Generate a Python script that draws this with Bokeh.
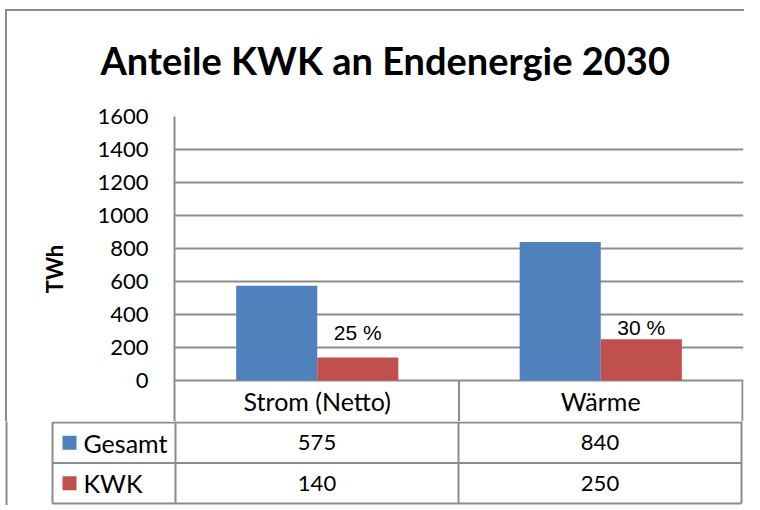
from bokeh.plotting import figure
from bokeh.models import ColumnDataSource, Range1d, FixedTicker
from bokeh.layouts import column
from bokeh.embed import file_html
from bokeh.resources import INLINE
from bokeh.core.properties import value

# ---------------- data ----------------
title_text = "Anteile KWK an Endenergie 2030"
y_label = "TWh"
categories = ["Strom (Netto)", "Wärme"]
series = ["Gesamt", "KWK"]
gesamt = [575, 840]
kwk = [140, 250]
share_labels = ["25 %", "30 %"]
y_ticks = [0, 200, 400, 600, 800, 1000, 1200, 1400, 1600]

# ---------------- style ----------------
BLUE = "#4F81BD"
RED = "#C0504D"
GRID = "#8C8C8C"
FONT = "Lato"
W = 744
BAR_W = 0.286              # bar width in category units
CAT_PX = 283.0             # pixels per category
PXU = 264.0 / 1600         # pixels per TWh
LEFT_COL = 123.0 / CAT_PX  # width of the legend column of the data table
HEADER_PX = 41.0           # height of the category header row
ROW_PX = 40.5              # height of a table row
label_nudge = [-25, -12]   # px above the KWK bars for the share labels

n = len(categories)
centers = [i + 0.5 for i in range(n)]
x_g = [c - BAR_W / 2 for c in centers]
x_k = [c + BAR_W / 2 for c in centers]
y_bottom = -HEADER_PX / PXU

# ---------------- chart (incl. header row of the table) ----------------
p = figure(width=W, height=421, x_range=Range1d(-1 / CAT_PX, n + 1 / CAT_PX),
           y_range=Range1d(y_bottom, 1600), title=title_text,
           x_axis_location=None, output_backend="svg", toolbar_location=None,
           min_border_left=174, min_border_right=W - 743, min_border_top=116,
           min_border_bottom=0)
p.frame_align = False
p.outline_line_color = None
p.background_fill_color = "white"
p.border_fill_color = None
p.styles = {
    "background-color": "white",
    "background-image": f"linear-gradient({GRID}, {GRID}), linear-gradient({GRID}, {GRID})",
    "background-size": "2px 100%, 100% 2px",
    "background-position": "5px 9px, 5px 9px",
    "background-repeat": "no-repeat",
}
p.xgrid.grid_line_color = None
p.ygrid.grid_line_color = GRID
p.ygrid.grid_line_width = 2
p.ygrid.ticker = FixedTicker(ticks=y_ticks)

p.title.text_font = FONT
p.title.text_font_size = "38px"
p.title.text_font_style = "bold"
p.title.text_color = "black"
p.title.align = "left"
p.title.offset = -74
p.title.standoff = 67

ax = p.yaxis[0]
ax.ticker = FixedTicker(ticks=y_ticks)
ax.major_tick_line_color = None
ax.major_tick_out = 0
ax.major_tick_in = 0
ax.minor_tick_line_color = None
ax.axis_line_color = GRID
ax.axis_line_width = 2
ax.major_label_standoff = 26
ax.major_label_text_font = FONT
ax.major_label_text_font_size = "22px"
ax.major_label_text_color = "black"
ax.axis_label = y_label
ax.axis_label_text_font = FONT
ax.axis_label_text_font_style = "bold"
ax.axis_label_text_font_size = "22px"
ax.axis_label_text_color = "black"
ax.axis_label_standoff = 26

src_g = ColumnDataSource(dict(x=x_g, top=gesamt))
src_k = ColumnDataSource(dict(x=x_k, top=kwk, lab=share_labels, dy=label_nudge))
p.vbar(x="x", top="top", width=BAR_W, bottom=0, source=src_g, fill_color=BLUE, line_color=None)
p.vbar(x="x", top="top", width=BAR_W, bottom=0, source=src_k, fill_color=RED, line_color=None)
p.text(x="x", y="top", text="lab", y_offset="dy", source=src_k, text_align="center",
       text_baseline="alphabetic", text_font=value("Liberation Sans"),
       text_font_size="21px", text_color="black")

# header row of the data table: category names and separators
sep_x = list(range(1, n + 1))
p.segment(x0=sep_x, y0=[0] * n, x1=sep_x, y1=[y_bottom] * n, line_color=GRID, line_width=2)
p.text(x=centers, y=[y_bottom / 2] * n, text=categories, text_align="center",
       text_baseline="middle", text_font=value(FONT), text_font_size="25px", text_color="black")

# ---------------- data table rows ----------------
TH = 84
t = figure(width=W, height=TH,
           x_range=Range1d(-175 / CAT_PX, (W - 175) / CAT_PX),
           y_range=Range1d(1 + (TH - 1) / ROW_PX, 1 - 1 / ROW_PX),
           x_axis_location=None, y_axis_location=None, min_border=0,
           output_backend="svg", toolbar_location=None)
t.frame_align = False
t.outline_line_color = None
t.xgrid.grid_line_color = None
t.ygrid.grid_line_color = None
t.background_fill_color = "white"
t.border_fill_color = "white"

nrows = len(series)
top_edge = 1 - 1 / ROW_PX
hy = [r + 1 for r in range(nrows + 1)]
t.segment(x0=[-LEFT_COL] * len(hy), y0=hy, x1=[n] * len(hy), y1=hy, line_color=GRID, line_width=2)
vx = [-LEFT_COL] + list(range(n + 1))
vy0 = [1] + [top_edge] * (n + 1)
t.segment(x0=vx, y0=vy0, x1=vx, y1=[nrows + 1] * len(vx), line_color=GRID, line_width=2)
# outer chart border (left edge)
bx = (6 - 175) / CAT_PX
t.segment(x0=[bx], y0=[top_edge - 1], x1=[bx], y1=[nrows + 3], line_color=GRID, line_width=2)

for r, vals in enumerate([gesamt, kwk]):
    t.text(x=centers, y=[r + 1.5] * n, text=[str(v) for v in vals], text_align="center",
           text_baseline="middle", text_font=value(FONT), text_font_size="22px",
           text_color="black")

row_y = [r + 1.5 for r in range(nrows)]
t.scatter(x=[-LEFT_COL + 17 / CAT_PX] * nrows, y=row_y, marker="square", size=14,
          fill_color=[BLUE, RED], line_color=None)
t.text(x=[-LEFT_COL + 31 / CAT_PX] * nrows, y=row_y, text=series, text_align="left",
       text_baseline="middle", text_font=value(FONT), text_font_size="25px",
       text_color="black")

layout = column(p, t, spacing=0, styles={"overflow": "hidden"})
html = file_html(layout, INLINE)
html = html.replace("</head>", "<style>html, body { overflow: hidden; }</style></head>", 1)
open("out.html", "w").write(html)
